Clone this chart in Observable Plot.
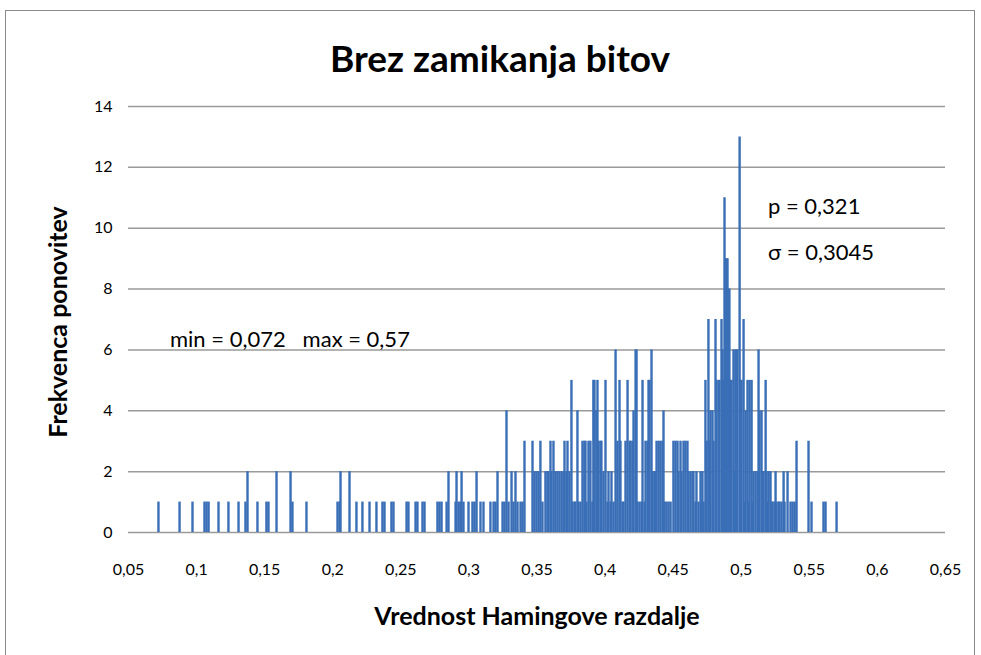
<!DOCTYPE html>
<html><head><meta charset="utf-8">
<script src="https://cdn.jsdelivr.net/npm/d3@7"></script>
<script src="https://cdn.jsdelivr.net/npm/@observablehq/plot@0.6"></script>
<style>
body{margin:0;background:#fff;}
#wrap{position:relative;width:981px;height:655px;overflow:hidden;font-family:Lato,"Open Sans",sans-serif;color:#000;}
#frame{position:absolute;left:5px;top:10px;width:970px;height:660px;border:1px solid #8a8a8a;box-sizing:border-box;}
#title{position:absolute;left:500px;top:57px;transform:translate(-50%,-50%);font-weight:bold;font-size:37px;white-space:nowrap;}
#ylab{position:absolute;left:57px;top:322px;transform:translate(-50%,-50%) rotate(-90deg);font-weight:bold;font-size:25px;white-space:nowrap;}
#xlab{position:absolute;left:537px;top:615px;transform:translate(-50%,-50%);font-weight:bold;font-size:25px;white-space:nowrap;}
.ann{position:absolute;font-size:22px;white-space:pre;transform:translateY(-50%);}
svg{position:absolute;left:0;top:0;}
</style></head>
<body>
<div id="wrap">
<div id="frame"></div>
</div>
<script>
// Hamming distance values (x) and their frequencies (counts)
const hamming = [
0.0720,0.0875,0.0970,0.1058,0.1073,0.1088,0.1161,0.1234,0.1308,0.1359,0.1374,0.1447,0.1513,0.1528,0.1587,
0.1690,0.1704,0.1807,0.2035,0.2050,0.2057,0.2123,0.2174,0.2218,0.2270,0.2321,0.2365,0.2380,0.2431,0.2446,
0.2542,0.2556,0.2608,0.2622,0.2659,0.2674,
0.2769,0.2784,0.2799,0.2836,0.2850,0.2902,0.2909,0.2924,0.2938,0.2946,0.2960,0.2997,0.3026,0.3041,0.3056,
0.3085,0.3107,0.3158,0.3181,0.3195,0.3210,0.3247,0.3261,0.3276,0.3291,0.3313,0.3327,0.3342,0.3357,0.3379,
0.3393,0.3408,0.3467,0.3481,0.3496,0.3511,0.3525,0.3540,0.3562,0.3577,0.3584,0.3599,0.3606,0.3621,0.3635,
0.3650,0.3665,0.3680,0.3694,0.3702,0.3716,0.3724,0.3738,0.3753,0.3760,0.3775,0.3782,0.3797,0.3804,0.3819,
0.3834,0.3848,0.3856,0.3863,0.3878,0.3892,0.3907,0.3914,0.3922,0.3936,0.3944,0.3951,0.3966,0.3973,0.3988,
0.4003,0.4018,0.4025,0.4040,0.4047,0.4062,0.4077,0.4091,0.4106,0.4113,0.4128,0.4135,0.4150,0.4165,0.4180,
0.4187,0.4202,0.4209,0.4224,0.4231,0.4238,0.4253,0.4268,0.4275,0.4290,0.4297,0.4312,0.4319,0.4326,0.4341,
0.4349,0.4363,0.4371,0.4378,0.4393,0.4407,0.4422,0.4429,0.4437,0.4451,0.4466,0.4481,
0.4502,0.4517,0.4532,0.4539,0.4554,0.4561,0.4576,0.4590,0.4605,0.4612,0.4627,0.4642,0.4649,0.4664,0.4671,
0.4686,0.4701,0.4708,0.4715,0.4723,0.4737,0.4745,0.4759,0.4767,0.4774,0.4789,0.4796,0.4811,0.4818,0.4833,
0.4840,0.4855,0.4862,0.4869,0.4877,0.4884,0.4891,0.4899,0.4906,0.4913,0.4921,0.4928,0.4943,0.4950,0.4957,
0.4965,0.4972,0.4988,0.4995,0.5002,0.5017,0.5024,0.5032,0.5046,0.5054,0.5061,0.5076,0.5083,0.5090,0.5105,
0.5120,0.5127,0.5134,0.5149,0.5156,0.5164,0.5179,0.5186,0.5193,0.5201,0.5215,0.5223,0.5230,0.5245,0.5252,
0.5259,0.5274,0.5281,0.5296,0.5311,0.5318,0.5340,0.5362,0.5377,0.5392,0.5406,0.5494,0.5516,0.5604,0.5619,
0.5700
];
const counts = [
1,1,1,1,1,1,1,1,1,1,2,1,1,1,2,
2,1,1,1,1,2,2,1,1,1,1,1,1,1,1,
1,1,1,1,1,1,
1,1,1,1,2,1,2,1,1,2,1,1,1,1,2,
1,1,1,1,1,2,1,1,4,1,2,1,2,1,1,
1,3,3,2,2,2,3,1,2,2,2,3,2,3,2,
2,2,2,2,3,2,3,2,5,1,1,1,4,1,1,
3,3,3,1,3,3,1,5,5,4,5,3,3,3,2,
5,1,2,1,2,1,6,3,5,3,1,1,3,5,3,
3,3,4,6,6,1,1,1,5,1,3,3,5,5,6,
2,2,2,3,3,3,3,4,1,1,1,1,
3,3,3,2,3,2,3,3,3,2,2,2,2,1,2,
1,2,1,2,1,5,3,7,3,4,4,3,7,5,5,
5,7,6,5,11,9,9,9,8,8,5,5,6,2,6,
6,6,13,5,5,7,1,4,5,1,5,5,1,2,2,
2,6,4,4,2,2,5,2,1,2,2,1,1,1,2,
1,1,1,1,2,1,2,1,1,1,3,3,1,1,1,
1
];
const xTicks = [0.05,0.1,0.15,0.2,0.25,0.3,0.35,0.4,0.45,0.5,0.55,0.6,0.65];
const yTicks = [0,2,4,6,8,10,12,14];
const titleText = "Brez zamikanja bitov";
const xLabel = "Vrednost Hamingove razdalje";
const yLabel = "Frekvenca ponovitev";
const annotations = ["p = 0,321", "σ = 0,3045", "min = 0,072   max = 0,57"];

const data = hamming.map((v, i) => ({v, c: counts[i]}));
const fmt = d => d3.format(".2~f")(d).replace(".", ",");

const chart = Plot.plot({
  width: 981, height: 655,
  marginLeft: 128, marginRight: 36, marginTop: 106, marginBottom: 123,
  x: {domain: [0.05, 0.65]},
  y: {domain: [0, 14]},
  style: {fontFamily: "Lato, 'Open Sans', sans-serif", fontSize: "16px", color: "#000", background: "transparent"},
  marks: [
    Plot.gridY(yTicks, {stroke: "#9a9a9a", strokeOpacity: 1, strokeWidth: 1.5}),
    Plot.ruleX(data, {x: "v", y: "c", stroke: "#3a6fb7", strokeWidth: 2.4}),
    Plot.axisX(xTicks, {tickSize: 0, tickPadding: 31, tickFormat: fmt, fontSize: 16, label: null}),
    Plot.axisY(yTicks, {tickSize: 0, tickPadding: 16, fontSize: 16, label: null})
  ]
});
const wrap = document.getElementById("wrap");
wrap.appendChild(chart);

function addDiv(id, cls, text, css) {
  const d = document.createElement("div");
  if (id) d.id = id;
  if (cls) d.className = cls;
  d.textContent = text;
  if (css) Object.assign(d.style, css);
  wrap.appendChild(d);
}
addDiv("title", null, titleText);
addDiv("ylab", null, yLabel);
addDiv("xlab", null, xLabel);
addDiv(null, "ann", annotations[0], {left: "768px", top: "205px"});
addDiv(null, "ann", annotations[1], {left: "768px", top: "251px"});
addDiv(null, "ann", annotations[2], {left: "170px", top: "338px"});
</script>
</body></html>
